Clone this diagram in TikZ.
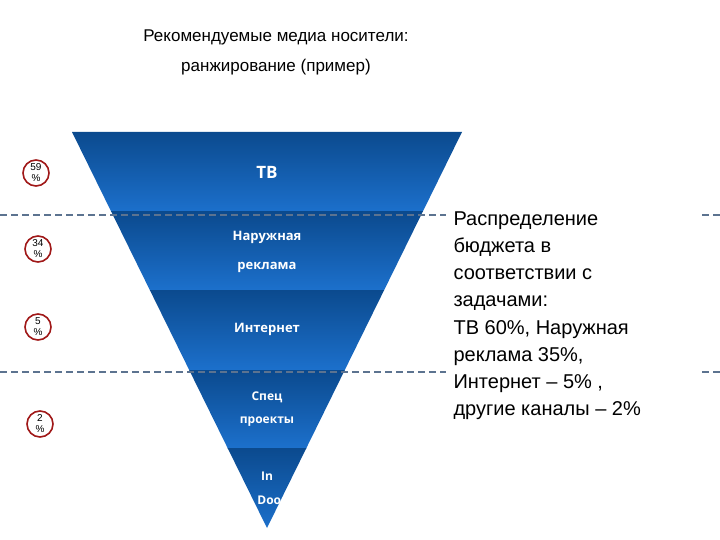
\documentclass[tikz,border=0pt]{standalone}
\usepackage{fontspec}
\setmainfont{Liberation Sans}
\newfontfamily\bandfont{Open Sans}
\begin{document}
\begin{tikzpicture}[x=1pt,y=-1pt,
  band/.style={top color=bandtop,bottom color=bandbot,draw=none},
  blab/.style={text=white,font=\bandfont\bfseries\fontsize{13}{15}\selectfont},
  pct/.style={circle,draw=pctred,line width=1.6pt,minimum size=26pt,inner sep=0pt,align=center,font=\fontsize{10}{11}\selectfont},
  dash/.style={}]
\definecolor{bandtop}{HTML}{0B4A8E}
\definecolor{bandbot}{HTML}{1C70CC}
\definecolor{pctred}{HTML}{A01818}
\definecolor{dashcol}{HTML}{5C7390}
\useasboundingbox (0,0) rectangle (720,540);
\fill[white] (0,0) rectangle (720,540);
\node[font=\fontsize{17}{30}\selectfont,align=center] (title) at (276,52) {Рекомендуемые медиа носители:\\ранжирование (пример)};
\begin{scope}
\clip (72,132) -- (462,132) -- (267,528) -- cycle;
\shade[band] (60,132) rectangle (470,212);
\shade[band] (60,212) rectangle (470,290);
\shade[band] (60,290) rectangle (470,370);
\shade[band] (60,370) rectangle (470,448);
\shade[band] (60,448) rectangle (470,530);
\node[blab,font=\bandfont\bfseries\fontsize{17}{19}\selectfont] (tv) at (267,172) {ТВ};
\node[blab] (nar) at (267,237) {Наружная};
\node[blab] (rek) at (267,267) {реклама};
\node[blab] (int) at (267,329) {Интернет};
\node[blab,font=\bandfont\bfseries\fontsize{12}{14}\selectfont] (spec) at (267,397) {Спец};
\node[blab,font=\bandfont\bfseries\fontsize{12}{14}\selectfont] (proj) at (267,422) {проекты};
\node[blab,font=\bandfont\bfseries\fontsize{12}{14}\selectfont] (in) at (267,476) {In};
\node[blab,font=\bandfont\bfseries\fontsize{12}{14}\selectfont] (door) at (272,500) {Door};
\end{scope}
\coordinate (d1a) at (0,215); \coordinate (d1b) at (446,215);
\coordinate (d1c) at (702,215); \coordinate (d1d) at (720,215);
\coordinate (d2a) at (0,372); \coordinate (d2b) at (446,372);
\coordinate (d2c) at (702,372); \coordinate (d2d) at (720,372);
\draw[dashcol,line width=1.2pt,dash pattern=on 7pt off 4pt] (d1a) -- (d1b) (d1c) -- (d1d) (d2a) -- (d2b) (d2c) -- (d2d);
\node[pct] (p1) at (36,173) {59\\\%};
\node[pct] (p2) at (38,249) {34\\\%};
\node[pct] (p3) at (38,327) {5\\\%};
\node[pct] (p4) at (40,424) {2\\\%};
\node[anchor=north west,align=left,font=\fontsize{20}{27.2}\selectfont] (txt) at (450,208) {Распределение\\бюджета в\\соответствии с\\задачами:\\ТВ 60\%, Наружная\\реклама 35\%,\\Интернет – 5\% ,\\другие каналы – 2\%};
\end{tikzpicture}
\end{document}
